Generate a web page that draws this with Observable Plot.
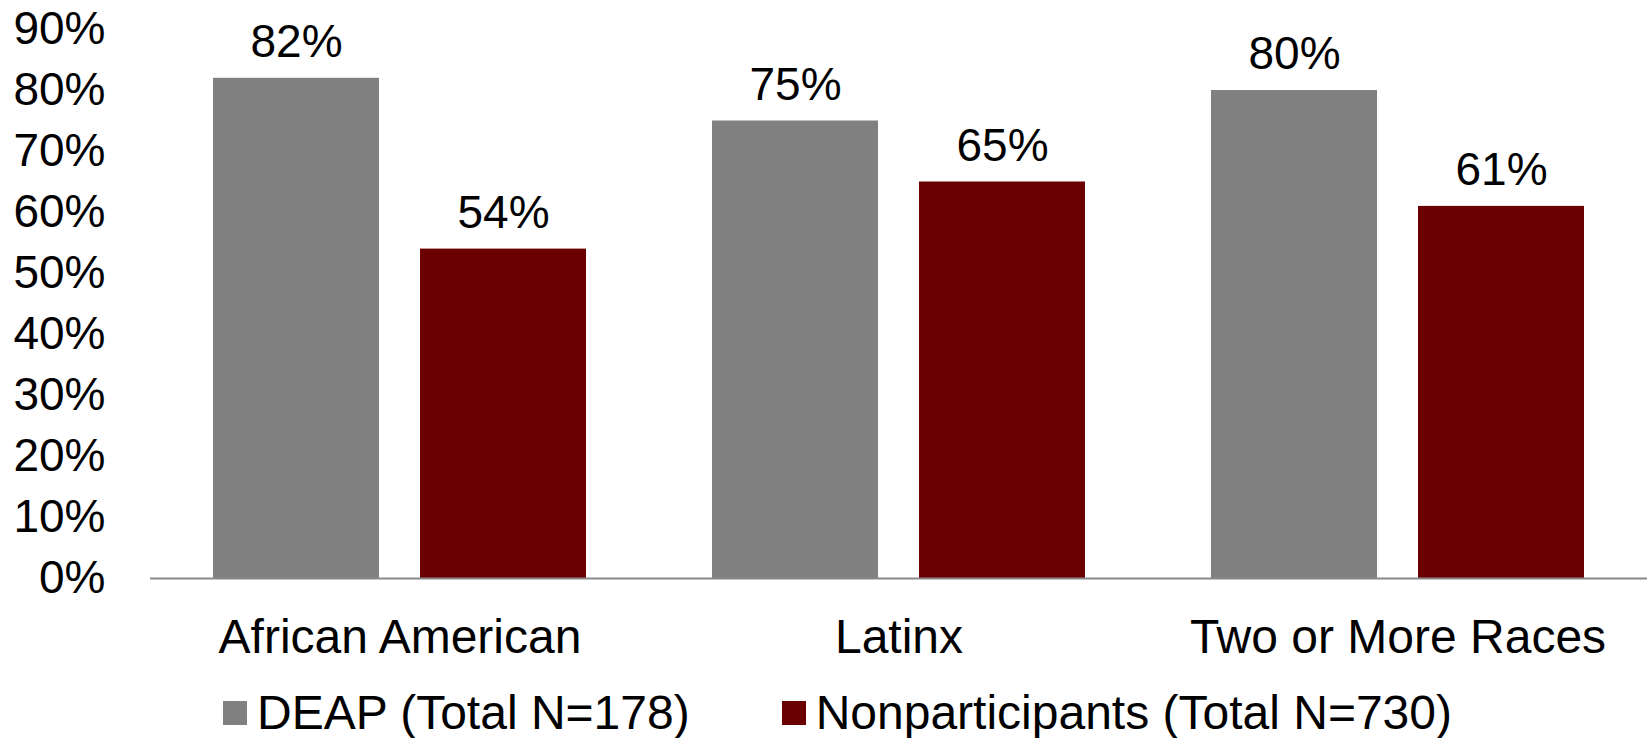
<!DOCTYPE html>
<html>
<head>
<meta charset="utf-8">
<script src="https://cdn.jsdelivr.net/npm/d3@7"></script>
<script src="https://cdn.jsdelivr.net/npm/@observablehq/plot@0.6"></script>
<style>
  html, body { margin: 0; padding: 0; background: #fff; }
  body { width: 1648px; height: 738px; overflow: hidden; font-family: "Liberation Sans", Arial, sans-serif; }
  #legend { display: flex; justify-content: flex-start; padding-left: 223px; padding-top: 15px; font-size: 48px; color: #000; line-height: normal; }
  #legend .item { display: inline-flex; align-items: baseline; white-space: nowrap; }
  #legend .item + .item { margin-left: 92px; }
  #legend .sw { display: inline-block; width: 24px; height: 24px; margin-right: 10px; position: relative; top: -4px; }
</style>
</head>
<body>
<div id="chart"></div>
<div id="legend"></div>
<script>
const groups = ["African American", "Latinx", "Two or More Races"];
const seriesNames = ["DEAP (Total N=178)", "Nonparticipants (Total N=730)"];
const deapValues = [82, 75, 80];
const nonparticipantValues = [54, 65, 61];
const yTicks = [0, 10, 20, 30, 40, 50, 60, 70, 80, 90];
const seriesColors = ["#808080", "#6B0000"];

const data = groups.flatMap((g, i) => [
  {group: g, series: seriesNames[0], value: deapValues[i]},
  {group: g, series: seriesNames[1], value: nonparticipantValues[i]}
]);

const font = "'Liberation Sans', Arial, sans-serif";

const chart = Plot.plot({
  width: 1648,
  height: 670,
  marginLeft: 149,
  marginRight: 0,
  marginTop: 29,
  marginBottom: 92,
  style: {fontFamily: font, fontSize: "46px", color: "#000", background: "#fff"},
  fx: {domain: groups, padding: 0, label: null},
  x: {domain: seriesNames, paddingInner: 0.2, paddingOuter: 0.3, axis: null},
  y: {domain: [0, 90], label: null},
  color: {domain: seriesNames, range: seriesColors},
  marks: [
    Plot.barY(data, {fx: "group", x: "series", y: "value", fill: "series"}),
    Plot.text(data, {fx: "group", x: "series", y: "value", text: d => d.value + "%", lineAnchor: "middle", dy: -36, fontSize: 46, fill: "#000"}),
    Plot.ruleY([0], {stroke: "#898989", strokeWidth: 2}),
    Plot.axisY({ticks: yTicks, tickFormat: d => d + "%", tickSize: 0, tickPadding: 45, fontSize: 46, label: null}),
    Plot.axisFx({anchor: "bottom", tickSize: 0, tickPadding: 40, fontSize: 48, label: null})
  ]
});
document.getElementById("chart").appendChild(chart);

const legend = document.getElementById("legend");
seriesNames.forEach((name, i) => {
  const item = document.createElement("span");
  item.className = "item";
  const sw = document.createElement("span");
  sw.className = "sw";
  sw.style.background = seriesColors[i];
  const label = document.createElement("span");
  label.textContent = name;
  item.appendChild(sw);
  item.appendChild(label);
  legend.appendChild(item);
});
</script>
</body>
</html>
